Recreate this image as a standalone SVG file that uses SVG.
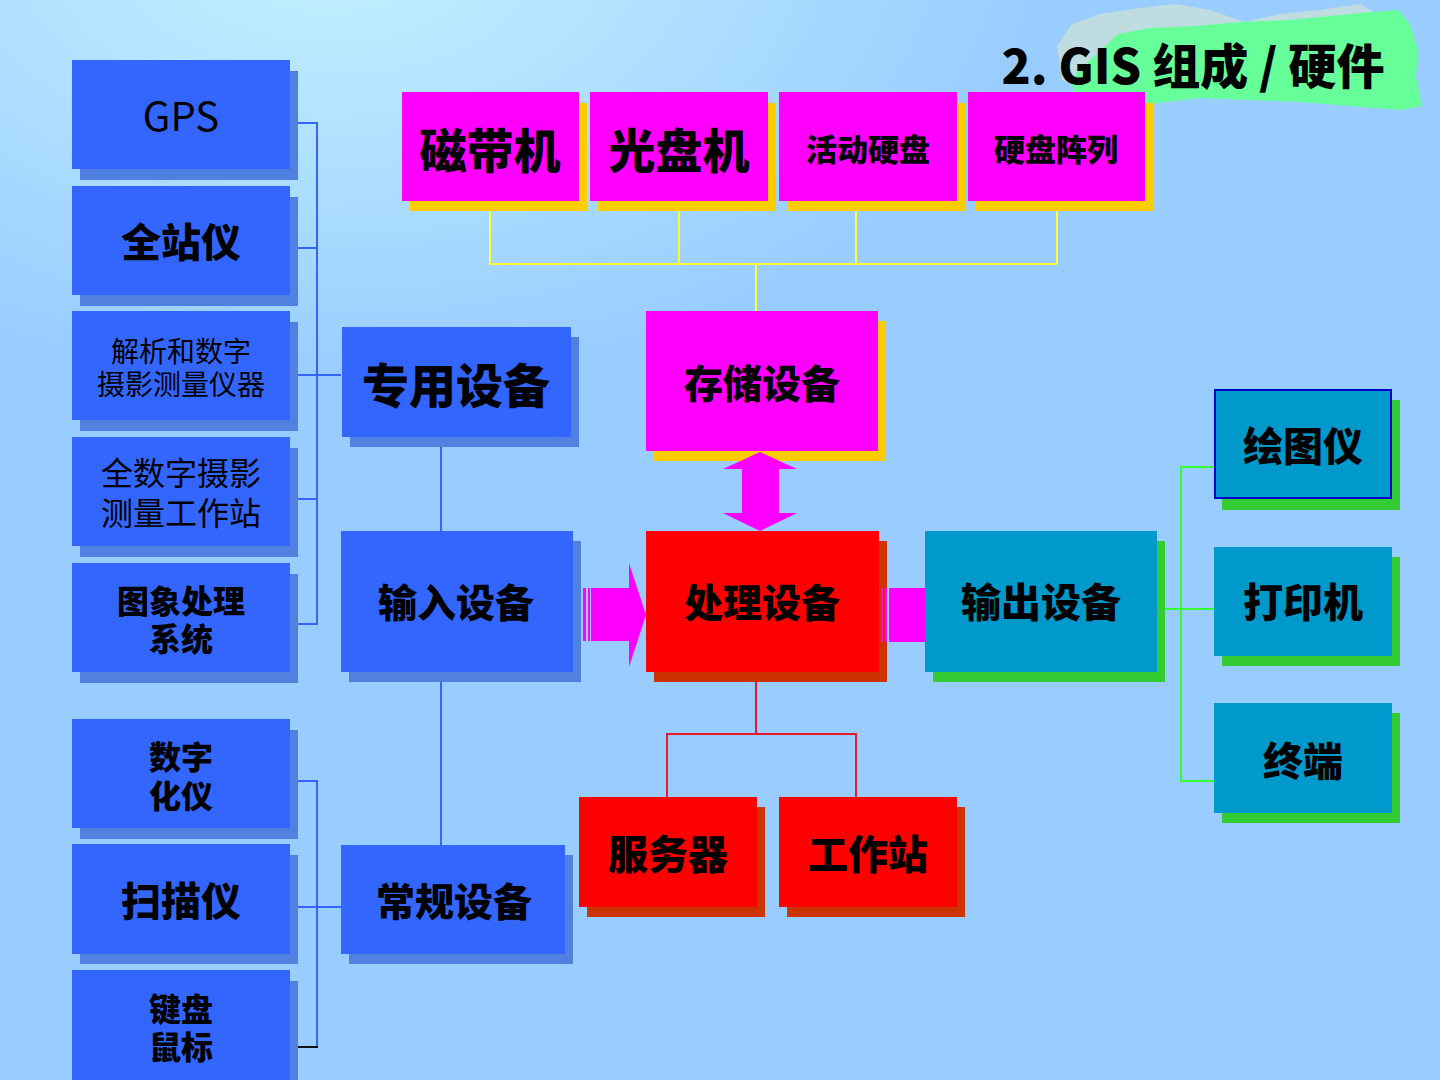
<svg xmlns="http://www.w3.org/2000/svg" width="1440" height="1080" viewBox="0 0 1440 1080">
<defs>
<radialGradient id="bg" gradientUnits="userSpaceOnUse" cx="330" cy="-60" r="720" gradientTransform="translate(330,-60) scale(1,0.62) translate(-330,60)">
<stop offset="0" stop-color="#C4F0FF"/>
<stop offset="0.55" stop-color="#ADDEFF"/>
<stop offset="1" stop-color="#99CCFF"/>
</radialGradient>
<style>
.t{font-family:"Noto Sans CJK SC","Noto Sans",sans-serif;fill:#000;text-anchor:middle;dominant-baseline:central}
.b{font-weight:900}
.r{font-weight:400}
.blue{fill:#3366FF}
.bsh{fill:#5080E0}
.mag{fill:#FF00FF}
.ysh{fill:#FFCC00}
.red{fill:#FF0000}
.rsh{fill:#CC3300}
.cy{fill:#0099CC}
.gsh{fill:#33CC33}
.lb{stroke:#3366FF;stroke-width:2;fill:none}
.ly{stroke:#FFFF33;stroke-width:2;fill:none}
.lr{stroke:#E8182E;stroke-width:2;fill:none}
.lg{stroke:#33FF33;stroke-width:2;fill:none}
</style>
</defs>
<rect width="1440" height="1080" fill="url(#bg)"/>

<g id="title">
<path d="M1057,46 L1072,24 L1100,14 L1140,8 L1175,4 L1210,10 L1245,22 L1280,14 L1320,10 L1360,4 L1378,14 L1385,40 L1380,75 L1330,85 L1200,92 L1100,95 L1062,80 Z" fill="#BFDCE0"/>
<path d="M1118,34 L1150,28 L1195,26 L1240,22 L1290,20 L1330,16 L1370,12 L1398,10 L1410,24 L1418,50 L1416,78 L1422,106 L1400,110 L1350,106 L1300,102 L1250,100 L1200,98 L1150,104 L1110,108 L1078,100 L1070,80 L1090,60 Z" fill="#66FF99"/>
<text class="t b" x="1193" y="63" font-size="48">2. GIS 组成 / 硬件</text>
</g>

<g id="connectors">
<path class="lb" d="M290,123 H317 V624 H290 M290,248 H317 M290,375 H341 M290,499 H317"/>
<path class="lb" d="M290,781 H317 V1047 M290,907 H341"/>
<path d="M285,1047 H318" stroke="#111" stroke-width="2"/>
<path class="lb" d="M441,437 V531 M441,672 V845"/>
<path class="ly" d="M490,201 V264 M679,201 V264 M856,201 V264 M1057,201 V264 M490,264 H1057 M756,264 V311"/>
<path class="lr" d="M756,672 V734 M667,797 V734 H856 V797"/>
<path class="lg" d="M1157,609 H1214 M1214,467 H1181 V781 H1214"/>
</g>

<g id="gps"><rect class="bsh" x="80" y="71" width="218" height="109"/><rect class="blue" x="72" y="60" width="218" height="109"/><text class="t r" x="181" y="114" font-size="40">GPS</text></g>
<g id="total-station"><rect class="bsh" x="80" y="197" width="218" height="109"/><rect class="blue" x="72" y="186" width="218" height="109"/><text class="t b" x="181" y="240" font-size="40">全站仪</text></g>
<g id="photogrammetry"><rect class="bsh" x="80" y="322" width="218" height="109"/><rect class="blue" x="72" y="311" width="218" height="109"/><text class="t r" font-size="28"><tspan x="181" y="350">解析和数字</tspan><tspan x="181" y="383">摄影测量仪器</tspan></text></g>
<g id="workstation-photo"><rect class="bsh" x="80" y="448" width="218" height="109"/><rect class="blue" x="72" y="437" width="218" height="109"/><text class="t r" font-size="32"><tspan x="181" y="471">全数字摄影</tspan><tspan x="181" y="511">测量工作站</tspan></text></g>
<g id="image-processing"><rect class="bsh" x="80" y="574" width="218" height="109"/><rect class="blue" x="72" y="563" width="218" height="109"/><text class="t b" font-size="32"><tspan x="181" y="599">图象处理</tspan><tspan x="181" y="637">系统</tspan></text></g>
<g id="digitizer"><rect class="bsh" x="80" y="730" width="218" height="109"/><rect class="blue" x="72" y="719" width="218" height="109"/><text class="t b" font-size="32"><tspan x="181" y="755">数字</tspan><tspan x="181" y="794">化仪</tspan></text></g>
<g id="scanner"><rect class="bsh" x="80" y="855" width="218" height="109"/><rect class="blue" x="72" y="844" width="218" height="110"/><text class="t b" x="181" y="899" font-size="40">扫描仪</text></g>
<g id="keyboard"><rect class="bsh" x="80" y="981" width="218" height="109"/><rect class="blue" x="72" y="970" width="218" height="115"/><text class="t b" font-size="32"><tspan x="181" y="1007">键盘</tspan><tspan x="181" y="1045">鼠标</tspan></text></g>

<g id="special"><rect class="bsh" x="350" y="337" width="229" height="110"/><rect class="blue" x="342" y="327" width="229" height="110"/><text class="t b" x="456" y="382" font-size="47">专用设备</text></g>
<g id="input"><rect class="bsh" x="349" y="541" width="232" height="141"/><rect class="blue" x="341" y="531" width="232" height="141"/><text class="t b" x="456" y="600" font-size="39">输入设备</text></g>
<g id="general"><rect class="bsh" x="349" y="855" width="224" height="109"/><rect class="blue" x="341" y="845" width="224" height="109"/><text class="t b" x="454" y="899" font-size="39">常规设备</text></g>

<g id="tape"><rect class="ysh" x="410" y="103" width="177" height="108"/><rect class="mag" x="402" y="92" width="177" height="109"/><text class="t b" x="490" y="147" font-size="47">磁带机</text></g>
<g id="optical"><rect class="ysh" x="598" y="103" width="178" height="108"/><rect class="mag" x="590" y="92" width="178" height="109"/><text class="t b" x="679" y="147" font-size="47">光盘机</text></g>
<g id="removable"><rect class="ysh" x="787" y="103" width="178" height="108"/><rect class="mag" x="779" y="92" width="178" height="109"/><text class="t b" x="868" y="147" font-size="31">活动硬盘</text></g>
<g id="raid"><rect class="ysh" x="976" y="103" width="177" height="108"/><rect class="mag" x="968" y="92" width="177" height="109"/><text class="t b" x="1056" y="147" font-size="31">硬盘阵列</text></g>

<g id="storage"><rect class="ysh" x="654" y="321" width="232" height="140"/><rect class="mag" x="646" y="311" width="232" height="140"/><text class="t b" x="762" y="381" font-size="39">存储设备</text></g>
<g id="processing"><rect class="rsh" x="654" y="541" width="233" height="141"/><rect class="red" x="646" y="531" width="233" height="141"/><text class="t b" x="762" y="600" font-size="39">处理设备</text></g>
<g id="output"><rect class="gsh" x="933" y="541" width="232" height="141"/><rect class="cy" x="925" y="531" width="232" height="141"/><text class="t b" x="1041" y="600" font-size="40">输出设备</text></g>

<g id="plotter"><rect class="gsh" x="1222" y="400" width="178" height="110"/><rect class="cy" x="1215" y="390" width="176" height="108" stroke="#0000CC" stroke-width="2"/><text class="t b" x="1303" y="444" font-size="40">绘图仪</text></g>
<g id="printer"><rect class="gsh" x="1222" y="557" width="178" height="109"/><rect class="cy" x="1214" y="547" width="178" height="109"/><text class="t b" x="1303" y="600" font-size="40">打印机</text></g>
<g id="terminal"><rect class="gsh" x="1222" y="713" width="178" height="110"/><rect class="cy" x="1214" y="703" width="178" height="110"/><text class="t b" x="1303" y="759" font-size="40">终端</text></g>

<g id="server"><rect class="rsh" x="587" y="807" width="178" height="110"/><rect class="red" x="579" y="797" width="178" height="110"/><text class="t b" x="668" y="852" font-size="40">服务器</text></g>
<g id="workstation"><rect class="rsh" x="787" y="807" width="178" height="110"/><rect class="red" x="779" y="797" width="178" height="110"/><text class="t b" x="868" y="852" font-size="40">工作站</text></g>

<g id="flow-arrows" class="mag">
<polygon points="760,452 797,469 779,469 779,513 797,513 760,531 723,513 742,513 742,469 723,469"/>
<rect x="583" y="588" width="3" height="53"/>
<rect x="588" y="588" width="2" height="53"/>
<polygon points="591,588 629,588 629,563 646,615 629,667 629,641 591,641"/>
<rect x="881" y="588" width="2" height="54"/>
<rect x="885" y="588" width="2" height="54"/>
<rect x="889" y="588" width="36" height="54"/>
</g>
</svg>
